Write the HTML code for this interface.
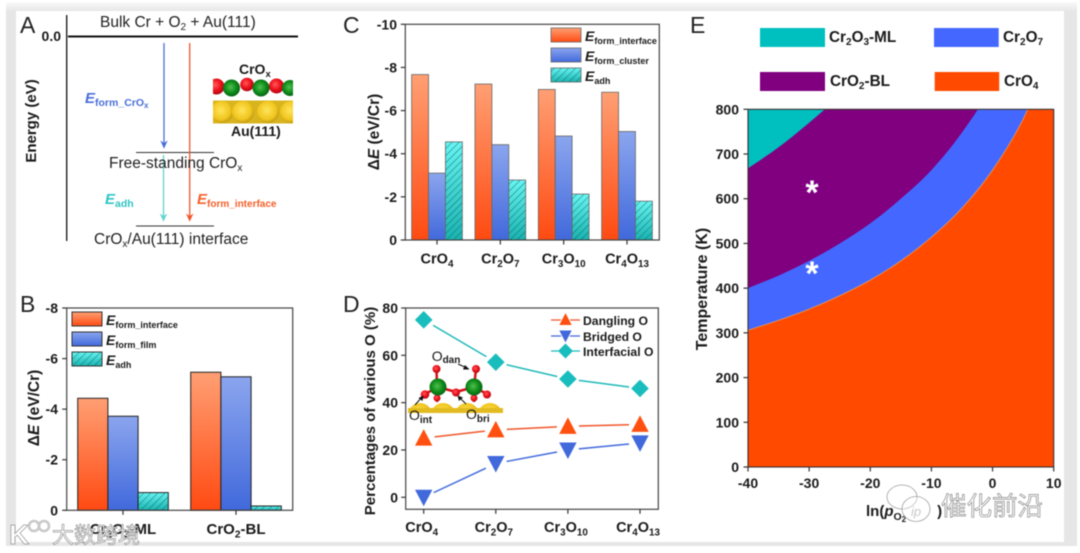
<!DOCTYPE html>
<html lang="en">
<head>
<meta charset="utf-8">
<title>CrOx on Au(111) energetics figure</title>
<style>
html,body{margin:0;padding:0;background:#fff;width:1080px;height:553px;overflow:hidden}
svg{display:block;filter:blur(.4px)}
text{font-family:"Liberation Sans","Noto Sans CJK SC",sans-serif;fill:#1a1a1a}
.b{font-weight:bold}
.tick{font-weight:bold;font-size:14px}
.lt{font-size:23px;fill:#222}
.reg{font-size:15.5px;fill:#222}
.wm{font-family:"Liberation Sans","Noto Sans CJK SC",sans-serif;fill:#fff;stroke:#8a8a8a;stroke-width:.7px}
</style>
</head>
<body>
<svg id="figure" xmlns="http://www.w3.org/2000/svg" width="1080" height="553" viewBox="0 0 1080 553">
<defs>
<linearGradient id="gOrange" x1="0" y1="0" x2="0" y2="1"><stop offset="0" stop-color="#ff9f73"/><stop offset="1" stop-color="#ff4a12"/></linearGradient>
<linearGradient id="gBlue" x1="0" y1="0" x2="0" y2="1"><stop offset="0" stop-color="#8ba5ee"/><stop offset="1" stop-color="#4169dc"/></linearGradient>
<linearGradient id="gTeal" x1="0" y1="0" x2="0" y2="1"><stop offset="0" stop-color="#66f5f2"/><stop offset="1" stop-color="#18b3b0"/></linearGradient>
<linearGradient id="gTopBand" x1="0" y1="0" x2="0" y2="1"><stop offset="0" stop-color="#fafafa"/><stop offset="1" stop-color="#e6e6e6"/></linearGradient>
<pattern id="hatch" width="5" height="5" patternUnits="userSpaceOnUse" patternTransform="rotate(45)"><line x1="0" y1="0" x2="0" y2="5" stroke="#17595a" stroke-width=".85"/></pattern>
<radialGradient id="aRed" cx=".42" cy=".4" r=".65"><stop offset="0" stop-color="#ff5a5a"/><stop offset=".55" stop-color="#ee0f1a"/><stop offset="1" stop-color="#a00810"/></radialGradient>
<radialGradient id="aGreen" cx=".45" cy=".45" r=".65"><stop offset="0" stop-color="#4fc04f"/><stop offset=".55" stop-color="#0c8a18"/><stop offset="1" stop-color="#075010"/></radialGradient>
<radialGradient id="aGold" cx=".45" cy=".42" r=".65"><stop offset="0" stop-color="#ffe45a"/><stop offset=".65" stop-color="#f0c51e"/><stop offset="1" stop-color="#b08a10"/></radialGradient>
<clipPath id="clipE"><rect x="748" y="109.3" width="305.7" height="357.7"/></clipPath>
<clipPath id="clipAtoms"><rect x="213" y="74" width="80" height="52"/></clipPath>
<clipPath id="clipInset"><rect x="408" y="360" width="95" height="53"/></clipPath>
</defs>

<g>
  <rect x="6" y="3" width="1071" height="543" fill="#e6e6e6"/>
  <rect x="6" y="2" width="1071" height="9" fill="url(#gTopBand)"/>
  <rect x="16" y="11" width="1048" height="531" fill="#fff"/>
</g>

<!-- PANEL A -->
<g>
  <text class="lt" x="20" y="33">A</text>
  <line x1="66.7" y1="15" x2="66.7" y2="241" stroke="#222" stroke-width="1.4"/>
  <line x1="68" y1="36.5" x2="298" y2="36.5" stroke="#111" stroke-width="2"/>
  <text class="tick" x="61" y="41" text-anchor="end">0.0</text>
  <text class="b" font-size="15" transform="translate(36,121) rotate(-90)" text-anchor="middle">Energy (eV)</text>
  <line x1="136" y1="152.5" x2="214" y2="152.5" stroke="#333" stroke-width="1"/>
  <line x1="136" y1="226" x2="214" y2="226" stroke="#333" stroke-width="1"/>
  <g>
    <line x1="164" y1="43" x2="164" y2="144" stroke="#4a6fd8" stroke-width="1.3"/>
    <polygon points="160.3,140.5 164,143 167.7,140.5 164,148.8" fill="#4a6fd8"/>
  </g>
  <g>
    <line x1="189.7" y1="43" x2="189.7" y2="217" stroke="#f0562a" stroke-width="1.3"/>
    <polygon points="186,213.5 189.7,216 193.4,213.5 189.7,221.8" fill="#f0562a"/>
  </g>
  <g>
    <line x1="163.5" y1="155" x2="163.5" y2="217" stroke="#62d2d2" stroke-width="1.3"/>
    <polygon points="159.8,213.5 163.5,216 167.2,213.5 163.5,221.8" fill="#62d2d2"/>
  </g>
  <text class="reg" x="100" y="27">Bulk Cr + O<tspan font-size="10" dy="3">2</tspan><tspan dy="-3"> + Au(111)</tspan></text>
  <text class="reg" x="109" y="168">Free-standing CrO<tspan font-size="10" dy="3">x</tspan></text>
  <text class="reg" x="94" y="244">CrO<tspan font-size="10" dy="3">x</tspan><tspan dy="-3">/Au(111) interface</tspan></text>
  <text class="b" x="85" y="103" style="fill:#4a6fd8" font-size="15" font-style="italic">E<tspan font-size="10.5" font-style="normal" dy="3">form_CrO</tspan><tspan font-size="8" font-style="normal" dy="2">x</tspan></text>
  <text class="b" x="105" y="204" style="fill:#2fc4c4" font-size="15" font-style="italic">E<tspan font-size="10.5" font-style="normal" dy="3">adh</tspan></text>
  <text class="b" x="197" y="204" style="fill:#f4602a" font-size="15" font-style="italic">E<tspan font-size="10" font-style="normal" dy="3">form_interface</tspan></text>
  <g>
    <g clip-path="url(#clipAtoms)">
      <rect x="213" y="100.5" width="80" height="23" fill="#d8b41e"/>
      <circle cx="222" cy="112" r="11" fill="url(#aGold)"/><circle cx="243" cy="112" r="11" fill="url(#aGold)"/><circle cx="268" cy="112" r="11" fill="url(#aGold)"/><circle cx="291" cy="112" r="11" fill="url(#aGold)"/>
      <circle cx="216.5" cy="86.5" r="8" fill="url(#aRed)"/><circle cx="247" cy="84.5" r="6.8" fill="url(#aRed)"/><circle cx="276.5" cy="86" r="7.5" fill="url(#aRed)"/>
      <circle cx="231.5" cy="88" r="8.5" fill="url(#aGreen)"/><circle cx="261" cy="88" r="8.5" fill="url(#aGreen)"/><circle cx="290" cy="88" r="8" fill="url(#aGreen)"/>
    </g>
    <text class="b" x="239" y="74" font-size="14">CrO<tspan font-size="9.5" dy="3">x</tspan></text>
    <text class="b" x="231" y="136" font-size="14">Au(111)</text>
  </g>
</g>

<!-- PANEL B -->
<g>
  <text class="lt" x="20" y="312">B</text>
  <g id="bBars"></g>
  <g id="bAxes"></g>
  <text class="b" font-size="15.5" transform="translate(39,408) rotate(-90)" text-anchor="middle">Δ<tspan font-style="italic">E</tspan> (eV/Cr)</text>
  <g>
    <rect x="72" y="312" width="30" height="14" fill="url(#gOrange)" stroke="#333"/>
    <rect x="72" y="332" width="30" height="14" fill="url(#gBlue)" stroke="#333"/>
    <rect x="72" y="352" width="30" height="14" fill="url(#gTeal)" stroke="#333"/>
    <rect x="72" y="352" width="30" height="14" fill="url(#hatch)"/>
    <text class="b" x="106" y="325" font-size="14" font-style="italic">E<tspan font-size="9" font-style="normal" dy="3">form_interface</tspan></text>
    <text class="b" x="106" y="345" font-size="14" font-style="italic">E<tspan font-size="9" font-style="normal" dy="3">form_film</tspan></text>
    <text class="b" x="106" y="365" font-size="14" font-style="italic">E<tspan font-size="9" font-style="normal" dy="3">adh</tspan></text>
  </g>
</g>

<!-- PANEL C -->
<g>
  <text class="lt" x="343" y="33">C</text>
  <g id="cBars"></g>
  <g id="cAxes"></g>
  <text class="b" font-size="15.5" transform="translate(379,132) rotate(-90)" text-anchor="middle">Δ<tspan font-style="italic">E</tspan> (eV/Cr)</text>
  <g>
    <rect x="551" y="28" width="30" height="14" fill="url(#gOrange)" stroke="#666" stroke-width=".8"/>
    <rect x="551" y="48" width="30" height="14" fill="url(#gBlue)" stroke="#666" stroke-width=".8"/>
    <rect x="551" y="68" width="30" height="14" fill="url(#gTeal)" stroke="#666" stroke-width=".8"/>
    <rect x="551" y="68" width="30" height="14" fill="url(#hatch)"/>
    <text class="b" x="585" y="41" font-size="14" font-style="italic">E<tspan font-size="9" font-style="normal" dy="3">form_interface</tspan></text>
    <text class="b" x="585" y="61" font-size="14" font-style="italic">E<tspan font-size="9" font-style="normal" dy="3">form_cluster</tspan></text>
    <text class="b" x="585" y="81" font-size="14" font-style="italic">E<tspan font-size="9" font-style="normal" dy="3">adh</tspan></text>
  </g>
</g>

<!-- PANEL D -->
<g>
  <text class="lt" x="343" y="312">D</text>
  <g>
    <g clip-path="url(#clipInset)">
      <circle cx="420" cy="415" r="12" fill="url(#aGold)"/><circle cx="443" cy="415" r="12" fill="url(#aGold)"/><circle cx="467" cy="415" r="12" fill="url(#aGold)"/><circle cx="490" cy="415" r="12" fill="url(#aGold)"/>
      <rect x="408" y="408" width="95" height="5" fill="#e2bb20"/>
    </g>
    <g stroke="#d81018" stroke-width="2.5">
      <line x1="436.5" y1="369" x2="437" y2="387"/><line x1="476" y1="369" x2="474" y2="387"/>
      <line x1="425" y1="394" x2="438" y2="387"/><line x1="456" y1="392" x2="438" y2="387"/><line x1="456" y1="392" x2="474" y2="387"/><line x1="487" y1="394" x2="474" y2="387"/>
      <line x1="437" y1="387" x2="437" y2="402"/><line x1="474" y1="387" x2="474" y2="402"/>
    </g>
    <circle cx="437" cy="398" r="3.5" fill="url(#aRed)"/><circle cx="474" cy="398" r="3.5" fill="url(#aRed)"/>
    <circle cx="438" cy="387" r="8.5" fill="url(#aGreen)"/><circle cx="474" cy="387" r="8.5" fill="url(#aGreen)"/>
    <circle cx="436.5" cy="369" r="4" fill="url(#aRed)"/><circle cx="476" cy="369" r="4" fill="url(#aRed)"/>
    <circle cx="425" cy="394.5" r="4.3" fill="url(#aRed)"/><circle cx="456" cy="392.5" r="4" fill="url(#aRed)"/><circle cx="487" cy="394.5" r="4" fill="url(#aRed)"/>
    <g stroke="#111" stroke-width="1" fill="none">
      <path d="M458,364 L468,368.5"/><path d="M415,405 L422,397"/><path d="M466,404 L459,397"/>
    </g>
    <g fill="#111">
      <polygon points="469.5,369.5 463,369.5 465,365"/><polygon points="423.5,395.5 422.5,401 418.5,398"/><polygon points="457.5,395.5 463,397.5 459,401"/>
    </g>
    <text x="431.7" y="361" font-size="14">O<tspan class="b" font-size="10" dy="2">dan</tspan></text>
    <text x="409" y="420" font-size="14">O<tspan class="b" font-size="10" dy="3">int</tspan></text>
    <text x="466" y="419" font-size="14">O<tspan class="b" font-size="10" dy="3">bri</tspan></text>
  </g>
  <g id="dSeries"></g>
  <g id="dAxes"></g>
  <text class="b" font-size="15" transform="translate(375,411) rotate(-90)" text-anchor="middle">Percentages of various O (%)</text>
  <g>
    <g>
      <line x1="551" y1="320" x2="580" y2="320" stroke="#f0562a" stroke-width="1.3"/>
      <polygon points="565.5,312 572.5,325.5 558.5,325.5" fill="#ff5010" stroke="#fff" stroke-width="1"/>
      <text class="b" x="583" y="325" font-size="12.2">Dangling O</text>
    </g>
    <g>
      <line x1="551" y1="336" x2="580" y2="336" stroke="#4169dc" stroke-width="1.3"/>
      <polygon points="565.5,343.5 572.5,330 558.5,330" fill="#4169dc" stroke="#fff" stroke-width="1"/>
      <text class="b" x="583" y="341" font-size="12.2">Bridged O</text>
    </g>
    <g>
      <line x1="551" y1="351" x2="580" y2="351" stroke="#1fb9b9" stroke-width="1.3"/>
      <polygon points="565.5,343.5 573,351 565.5,358.5 558,351" fill="#19bdbd"/>
      <text class="b" x="583" y="356" font-size="12.2">Interfacial O</text>
    </g>
  </g>
</g>

<!-- PANEL E -->
<g>
  <text class="lt" x="690" y="33">E</text>
  <g>
    <rect x="760" y="28" width="65" height="19" fill="#00bfbf"/>
    <rect x="934" y="28" width="64.7" height="19" fill="#4468ff"/>
    <rect x="760" y="72" width="65" height="19" fill="#800080"/>
    <rect x="934.7" y="72" width="64.5" height="19" fill="#ff4a00"/>
    <text class="b" x="829" y="42" font-size="15.3">Cr<tspan font-size="10" dy="3">2</tspan><tspan dy="-3">O</tspan><tspan font-size="10" dy="3">3</tspan><tspan dy="-3">-ML</tspan></text>
    <text class="b" x="1003" y="42" font-size="15.3">Cr<tspan font-size="10" dy="3">2</tspan><tspan dy="-3">O</tspan><tspan font-size="10" dy="3">7</tspan></text>
    <text class="b" x="830" y="86" font-size="15.3">CrO<tspan font-size="10" dy="3">2</tspan><tspan dy="-3">-BL</tspan></text>
    <text class="b" x="1004" y="86" font-size="15.3">CrO<tspan font-size="10" dy="3">4</tspan></text>
  </g>
  <g id="eRegions" clip-path="url(#clipE)"></g>
  <text class="b" x="812" y="204" font-size="34" text-anchor="middle" style="fill:#fff">*</text>
  <text class="b" x="812" y="285" font-size="34" text-anchor="middle" style="fill:#fff">*</text>
  <g id="eAxes"></g>
  <text class="b" font-size="16" transform="translate(707,289) rotate(-90)" text-anchor="middle">Temperature (K)</text>
  <text class="b" x="866" y="516" font-size="15">ln(<tspan font-style="italic">p</tspan><tspan font-size="10.5" dy="4">O</tspan><tspan font-size="8" dy="2">2</tspan><tspan dy="-6" dx="31">)</tspan></text>
</g>

<!-- WATERMARKS -->
<g opacity=".9">
  <text class="wm" x="9" y="544" font-size="28" font-weight="bold">K</text>
  <circle cx="34" cy="526" r="5" fill="none" stroke="#c4c4c4" stroke-width="2.6"/>
  <circle cx="44" cy="526" r="5" fill="none" stroke="#c4c4c4" stroke-width="2.6"/>
  <text class="wm" x="52" y="543" font-size="22">大数跨境</text>
</g>
<g>
  <g fill="rgba(255,255,255,.35)" stroke="#a0a0a0" stroke-width=".8">
    <ellipse cx="902" cy="497" rx="15" ry="12"/>
    <ellipse cx="916" cy="509" rx="14" ry="12.5"/>
  </g>
  <text x="911" y="516" font-size="13" font-style="italic" style="fill:#c8c8c8">ip</text>
  <text class="wm" x="941" y="515" font-size="25.5">催化前沿</text>
</g>

<script>
// ---------- Chart data ----------
var bCategories = ['Cr2O3-ML', 'CrO2-BL'];
var bInterface = [-4.43, -5.46];
var bFilm = [-3.72, -5.28];
var bAdh = [-0.70, -0.17];
var bTicks = [0, -2, -4, -6, -8];
var bTickLabels = ['0', '-2', '-4', '-6', '-8'];

var cCategories = ['CrO4', 'Cr2O7', 'Cr3O10', 'Cr4O13'];
var cInterface = [-7.67, -7.23, -6.98, -6.85];
var cCluster = [-3.10, -4.42, -4.82, -5.03];
var cAdh = [-4.55, -2.78, -2.13, -1.80];
var cTicks = [0, -2, -4, -6, -8, -10];
var cTickLabels = ['0', '-2', '-4', '-6', '-8', '-10'];

var dCategories = ['CrO4', 'Cr2O7', 'Cr3O10', 'Cr4O13'];
var dDangling = [25, 28.5, 30, 30.8];
var dBridged = [0, 14.3, 20, 23];
var dInterfacial = [75, 57.1, 50, 46];
var dTicks = [0, 20, 40, 60, 80];
var dTickLabels = ['0', '20', '40', '60', '80'];

var eLnP = [-40, -35, -30, -25, -20, -15, -10, -5, 0, 5, 10];
var eCro4Boundary = [306, 328, 353, 383, 418, 461, 514, 579, 664, 778, 939];
var eCr2o7Boundary = [400, 428, 461, 500, 545, 600, 664, 748, 855, 1000, 1200];
var eTealLnP = [-40, -35, -30, -25, -20];
var eTealBoundary = [668, 715, 770, 830, 900];
var eXTicks = [-40, -30, -20, -10, 0, 10];
var eXTickLabels = ['-40', '-30', '-20', '-10', '0', '10'];
var eYTicks = [0, 100, 200, 300, 400, 500, 600, 700, 800];
var eYTickLabels = ['0', '100', '200', '300', '400', '500', '600', '700', '800'];

// ---------- Helpers ----------
var NS = 'http://www.w3.org/2000/svg';
function mk(tag, parent, attrs) {
  var el = document.createElementNS(NS, tag);
  for (var k in attrs) { el.setAttribute(k, attrs[k]); }
  parent.appendChild(el);
  return el;
}
function linear(d0, d1, r0, r1) {
  return function (v) { return r0 + (v - d0) * (r1 - r0) / (d1 - d0); };
}
// Writes a formula string with digits as subscripts
function chem(parent, str, x, y, size) {
  var t = mk('text', parent, { x: x, y: y, 'text-anchor': 'middle', 'font-weight': 'bold', 'font-size': size });
  var parts = str.match(/\d+|\D+/g);
  var down = false;
  parts.forEach(function (p) {
    var isSub = /^\d+$/.test(p);
    var s = mk('tspan', t, {});
    if (isSub) {
      s.setAttribute('font-size', size * 0.68);
      s.setAttribute('dy', 3.5);
      down = true;
    } else if (down) {
      s.setAttribute('dy', -3.5);
      down = false;
    }
    s.textContent = p;
  });
  return t;
}
function drawFrame(g, x0, y0, x1, y1, color, w) {
  var r = mk('rect', g, { x: x0, y: y0, width: x1 - x0, height: y1 - y0, fill: 'none', stroke: color, 'stroke-width': w });
  
  
}
function drawYTicks(g, ticks, labels, yScale, axisX, labelX) {
  ticks.forEach(function (v, i) {
    var y = yScale(v);
    var l = mk('line', g, { x1: axisX - 4.5, x2: axisX, y1: y, y2: y, stroke: '#333', 'stroke-width': 1.2 });
    
    
    var t = mk('text', g, { x: labelX, y: y + 5, 'text-anchor': 'end', 'class': 'tick' });
    t.textContent = labels[i];
    
    
  });
}
function drawXCatTicks(g, cats, xScale, axisY, labelY, size, labelShift) {
  cats.forEach(function (c, i) {
    var x = xScale(i);
    var l = mk('line', g, { x1: x, x2: x, y1: axisY, y2: axisY + 4.5, stroke: '#333', 'stroke-width': 1.2 });
    
    
    var t = chem(g, c, x + labelShift, labelY, size);
    
    
  });
}
function drawBars(g, values, xLeft, barW, yScale, fill, stroke, sw, hatched, name) {
  values.forEach(function (v, i) {
    var x = xLeft(i);
    var top = yScale(v);
    var h = yScale(0) - top;
    var r = mk('rect', g, { x: x, y: top, width: barW, height: h, fill: fill, stroke: stroke, 'stroke-width': sw });
    
    
    if (hatched) {
      var o = mk('rect', g, { x: x, y: top, width: barW, height: h, fill: 'url(#hatch)' });
      
      
    }
  });
}
// Smooth path through points
function smooth(pts) {
  var d = 'M' + pts[0][0] + ',' + pts[0][1];
  for (var i = 0; i < pts.length - 1; i++) {
    var p0 = pts[Math.max(i - 1, 0)], p1 = pts[i], p2 = pts[i + 1], p3 = pts[Math.min(i + 2, pts.length - 1)];
    d += ' C' + (p1[0] + (p2[0] - p0[0]) / 6) + ',' + (p1[1] + (p2[1] - p0[1]) / 6) + ' ' +
      (p2[0] - (p3[0] - p1[0]) / 6) + ',' + (p2[1] - (p3[1] - p1[1]) / 6) + ' ' + p2[0] + ',' + p2[1];
  }
  return d;
}

// ---------- Panel B ----------
(function () {
  var y = linear(0, -8, 510.3, 308);
  var cx = linear(0, 1, 123, 236);
  var w = 30.2;
  var bars = document.getElementById('bBars');
  var axes = document.getElementById('bAxes');
  drawBars(bars, bInterface, function (i) { return cx(i) - 1.5 * w; }, w, y, 'url(#gOrange)', '#222', 1, false, 'bar-form-interface');
  drawBars(bars, bFilm, function (i) { return cx(i) - 0.5 * w; }, w, y, 'url(#gBlue)', '#222', 1, false, 'bar-form-film');
  drawBars(bars, bAdh, function (i) { return cx(i) + 0.5 * w; }, w, y, 'url(#gTeal)', '#222', 1, true, 'bar-adh');
  drawFrame(axes, 66.7, 308, 292.7, 510.3, '#444', 1.2);
  drawYTicks(axes, bTicks, bTickLabels, y, 66.7, 58);
  drawXCatTicks(axes, bCategories, cx, 510.3, 534, 15, 0);
})();

// ---------- Panel C ----------
(function () {
  var y = linear(0, -10, 240, 24.3);
  var cx = linear(0, 3, 437, 627);
  var w = 16.9;
  var bars = document.getElementById('cBars');
  var axes = document.getElementById('cAxes');
  drawBars(bars, cInterface, function (i) { return cx(i) - 1.5 * w; }, w, y, 'url(#gOrange)', '#666', 0.8, false, 'bar-form-interface');
  drawBars(bars, cCluster, function (i) { return cx(i) - 0.5 * w; }, w, y, 'url(#gBlue)', '#666', 0.8, false, 'bar-form-cluster');
  drawBars(bars, cAdh, function (i) { return cx(i) + 0.5 * w; }, w, y, 'url(#gTeal)', '#666', 0.8, true, 'bar-adh');
  drawFrame(axes, 405.3, 24.3, 659.3, 240, '#444', 1.2);
  drawYTicks(axes, cTicks, cTickLabels, y, 405.3, 397);
  drawXCatTicks(axes, cCategories, cx, 240, 263.5, 14.5, 0);
})();

// ---------- Panel D ----------
(function () {
  var y = linear(0, 80, 497.3, 308);
  var x = linear(0, 3, 423.7, 640);
  var series = document.getElementById('dSeries');
  var axes = document.getElementById('dAxes');
  function drawSeries(values, color, fill, shape, name) {
    for (var i = 0; i < values.length - 1; i++) {
      var x1 = x(i), y1 = y(values[i]), x2 = x(i + 1), y2 = y(values[i + 1]);
      var len = Math.sqrt((x2 - x1) * (x2 - x1) + (y2 - y1) * (y2 - y1));
      var ux = (x2 - x1) / len, uy = (y2 - y1) / len;
      var seg = mk('line', series, { x1: x1 + ux * 11, y1: y1 + uy * 11, x2: x2 - ux * 11, y2: y2 - uy * 11, stroke: color, 'stroke-width': 1.5 });
      
      
    }
    values.forEach(function (v, i) {
      var px = x(i), py = y(v), pts;
      if (shape === 'up') {
        pts = [[px, py - 9], [px + 8.7, py + 7.5], [px - 8.7, py + 7.5]];
      } else if (shape === 'down') {
        pts = [[px, py + 9], [px + 8.7, py - 7.5], [px - 8.7, py - 7.5]];
      } else {
        pts = [[px, py - 8.8], [px + 8.8, py], [px, py + 8.8], [px - 8.8, py]];
      }
      var m = mk('polygon', series, { points: pts.map(function (p) { return p.join(','); }).join(' '), fill: fill });
      
      
    });
  }
  drawSeries(dDangling, '#f0562a', '#ff5010', 'up', 'dangling-o');
  drawSeries(dBridged, '#4169dc', '#4169dc', 'down', 'bridged-o');
  drawSeries(dInterfacial, '#1fb9b9', '#19bdbd', 'diamond', 'interfacial-o');
  drawFrame(axes, 405.7, 308, 658.3, 509.3, '#444', 1.2);
  drawYTicks(axes, dTicks, dTickLabels, y, 405.7, 398);
  drawXCatTicks(axes, dCategories, x, 509.3, 532, 14.5, -2);
})();

// ---------- Panel E ----------
(function () {
  var x = linear(-40, 10, 748, 1053.7);
  var y = linear(0, 800, 467, 109.3);
  var regions = document.getElementById('eRegions');
  var axes = document.getElementById('eAxes');
  function curvePts(xs, ys) {
    return xs.map(function (v, i) { return [x(v), y(ys[i])]; });
  }
  function areaAbove(xs, ys, fill, stroke, name) {
    var pts = curvePts(xs, ys);
    var d = smooth(pts) + ' L' + pts[pts.length - 1][0] + ',-400 L' + x(-40) + ',-400 Z';
    var p = mk('path', regions, { d: d, fill: fill, stroke: stroke, 'stroke-width': 0.8 });
    
    
  }
  var base = mk('rect', regions, { x: x(-40), y: y(800), width: x(10) - x(-40), height: y(0) - y(800), fill: '#ff4a00' });
  
  
  areaAbove(eLnP, eCro4Boundary, '#4468ff', '#ee9a55', 'region-cr2o7');
  areaAbove(eLnP, eCr2o7Boundary, '#800080', 'none', 'region-cro2-bl');
  areaAbove(eTealLnP, eTealBoundary, '#00bfbf', 'none', 'region-cr2o3-ml');

  drawFrame(axes, 748, 109.3, 1053.7, 467, '#3a3030', 1.1);
  drawYTicks(axes, eYTicks, eYTickLabels, y, 748, 739);
  eXTicks.forEach(function (v, i) {
    var px = x(v);
    var l = mk('line', axes, { x1: px, x2: px, y1: 467, y2: 471.5, stroke: '#333', 'stroke-width': 1.2 });
    
    
    var t = mk('text', axes, { x: px, y: 488, 'text-anchor': 'middle', 'class': 'tick' });
    t.textContent = eXTickLabels[i];
    
    
  });
})();
</script>
</svg>
</body>
</html>
